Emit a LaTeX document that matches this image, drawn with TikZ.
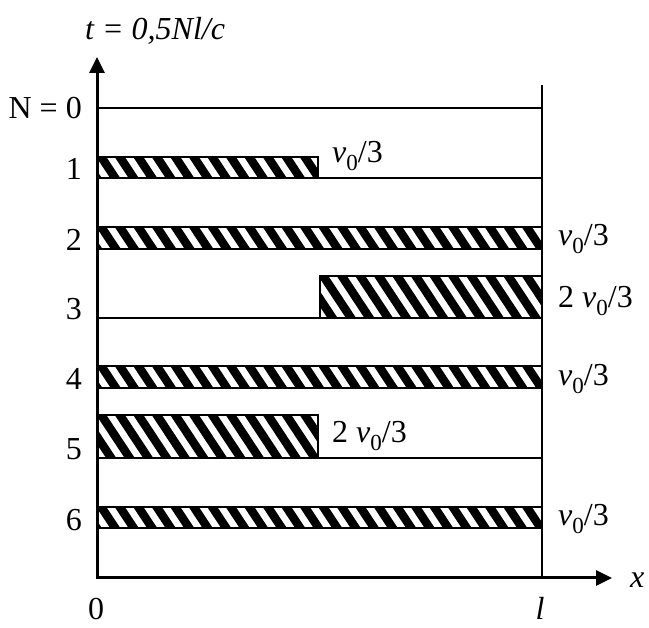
\documentclass[tikz,border=0pt]{standalone}
\usepackage{fontspec}
\setmainfont{Liberation Serif}
\usetikzlibrary{arrows.meta}
\newcommand{\vzero}{\textit{v}\raisebox{-0.25em}{\fontsize{23}{23}\selectfont 0}/3}
\newcommand{\hatchbar}[4]{%
  \begin{scope}
    \clip (#1,#2) rectangle (#3,#4);
    \foreach \s in {-50,-31.5,...,560} {
      \draw[stripe] (\s,#2-5) -- ++({0.66*(#4-#2+10)},{#4-#2+10});
    }
  \end{scope}
  \draw[barbox] (#1,#2) rectangle (#3,#4);
}
\begin{document}
\begin{tikzpicture}[x=1pt,y=-1pt,
  lbl/.style={font=\fontsize{32}{38}\selectfont, inner sep=0pt},
  hline/.style={line width=2pt},
  axisline/.style={line width=3pt, {Triangle[length=16pt,width=15pt]}-{Triangle[length=16pt,width=15pt]}},
  barbox/.style={line width=2pt},
  stripe/.style={line width=8.5pt}]
\useasboundingbox (0,0) rectangle (649,628);
\coordinate (O) at (97,578);
\coordinate (Ytop) at (97,57);
\coordinate (Xend) at (612,578);
\coordinate (Rtop) at (542,85);
\coordinate (Rbot) at (542,578);
% row lines
\foreach \y in {108,178,249,318,388,458,528} {
  \draw[hline] (97,\y) -- (542,\y);
}
% bars
\hatchbar{97}{157}{318}{178}
\hatchbar{97}{227}{542}{249}
\hatchbar{320}{276}{542}{318}
\hatchbar{97}{366}{542}{388}
\hatchbar{97}{415}{318}{458}
\hatchbar{97}{507}{542}{528}
% axes
\draw[hline] (Rtop) -- (Rbot);
\draw[axisline] (Ytop) -- (O) -- (Xend);
% labels
\node[lbl, anchor=base west] (tl) at (85,40) {\textit{t = 0,5Nl/c}};
\node[lbl, anchor=base east] (n0) at (82,119) {N = 0};
\node[lbl, anchor=base east] (n1) at (82,180) {1};
\node[lbl, anchor=base east] (n2) at (82,251) {2};
\node[lbl, anchor=base east] (n3) at (82,320) {3};
\node[lbl, anchor=base east] (n4) at (82,390) {4};
\node[lbl, anchor=base east] (n5) at (82,460) {5};
\node[lbl, anchor=base east] (n6) at (82,531) {6};
\node[lbl, anchor=base west] (r1) at (332,163) {\vzero};
\node[lbl, anchor=base west] (r2) at (558,246) {\vzero};
\node[lbl, anchor=base west] (r3) at (558,308) {2 \vzero};
\node[lbl, anchor=base west] (r4) at (558,386) {\vzero};
\node[lbl, anchor=base west] (r5) at (332,443) {2 \vzero};
\node[lbl, anchor=base west] (r6) at (558,526) {\vzero};
\node[lbl, anchor=base west] (xl) at (630,588) {\textit{x}};
\node[lbl, anchor=base] (z0) at (96,620) {0};
\node[lbl, anchor=base] (ll) at (540,620) {\textit{l}};
\end{tikzpicture}
\end{document}
